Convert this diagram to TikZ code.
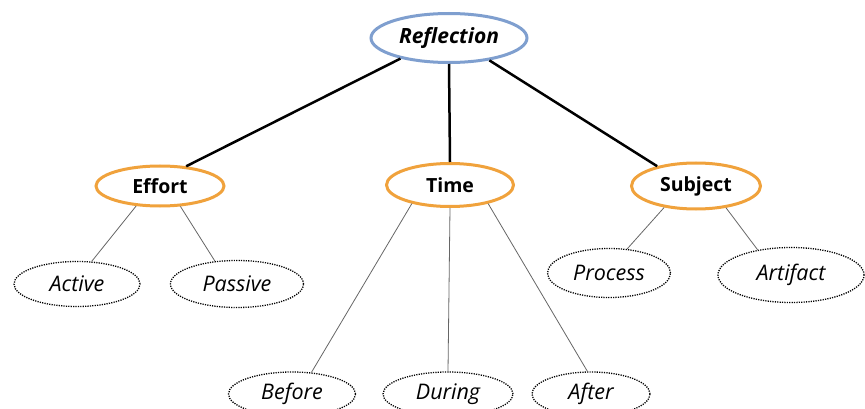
\documentclass[tikz,border=0pt]{standalone}
\usepackage{fontspec}
\setmainfont{Open Sans}
\usetikzlibrary{shapes.geometric}
\definecolor{topblue}{HTML}{7F9FCF}
\definecolor{midorange}{HTML}{F0A23C}
\definecolor{thingray}{HTML}{666666}
\tikzset{
  topnode/.style={ellipse, draw=topblue, line width=3pt, inner sep=0pt, fill=white,
    font=\fontsize{21}{21}\selectfont\bfseries\itshape},
  midnode/.style={ellipse, draw=midorange, line width=3pt, inner sep=0pt, fill=white,
    font=\fontsize{19.5}{19.5}\selectfont\bfseries},
  leafnode/.style={ellipse, draw=black, line width=1.3pt, dash pattern=on 1.2pt off 1.2pt,
    inner sep=0pt, fill=white, font=\fontsize{21.5}{21.5}\selectfont\itshape},
  thickline/.style={line width=2.5pt, black},
  thinline/.style={line width=0.8pt, thingray},
}
\begin{document}
\begin{tikzpicture}[x=1pt,y=-1pt]
\useasboundingbox (0,0) rectangle (865,409);
\clip (0,0) rectangle (865,409);
\node[topnode, minimum width=156pt, minimum height=49pt] (refl) at (449,38) {Reflection};
\node[midnode, minimum width=128pt, minimum height=40pt] (effort) at (160,186) {Effort};
\node[midnode, minimum width=127pt, minimum height=43pt] (time) at (450,185) {Time};
\node[midnode, minimum width=129pt, minimum height=46pt] (subject) at (696,186) {Subject};
\node[leafnode, minimum width=126pt, minimum height=45pt] (active) at (77,284) {Active};
\node[leafnode, minimum width=133pt, minimum height=47pt] (passive) at (237,284) {Passive};
\node[leafnode, minimum width=123pt, minimum height=49pt] (process) at (609,273) {Process};
\node[leafnode, minimum width=146pt, minimum height=55pt] (artifact) at (791,275) {Artifact};
\node[leafnode, minimum width=127pt, minimum height=44pt] (before) at (292,394) {Before};
\node[leafnode, minimum width=130pt, minimum height=44pt] (during) at (448,394) {During};
\node[leafnode, minimum width=118pt, minimum height=44pt] (after) at (591,394) {After};
\draw[thickline] (refl.203) -- (effort.37);
\draw[thickline] (refl.270) -- (time.90);
\draw[thickline] (refl.331) -- (subject.153);
\draw[thinline] (effort.220) -- (active.57);
\draw[thinline] (effort.315) -- (passive.134);
\draw[thinline] (time.206) -- (before.48);
\draw[thinline] (time.270) -- (during.90);
\draw[thinline] (time.334) -- (after.99);
\draw[thinline] (subject.214) -- (process.53);
\draw[thinline] (subject.324) -- (artifact.143);
\end{tikzpicture}
\end{document}
